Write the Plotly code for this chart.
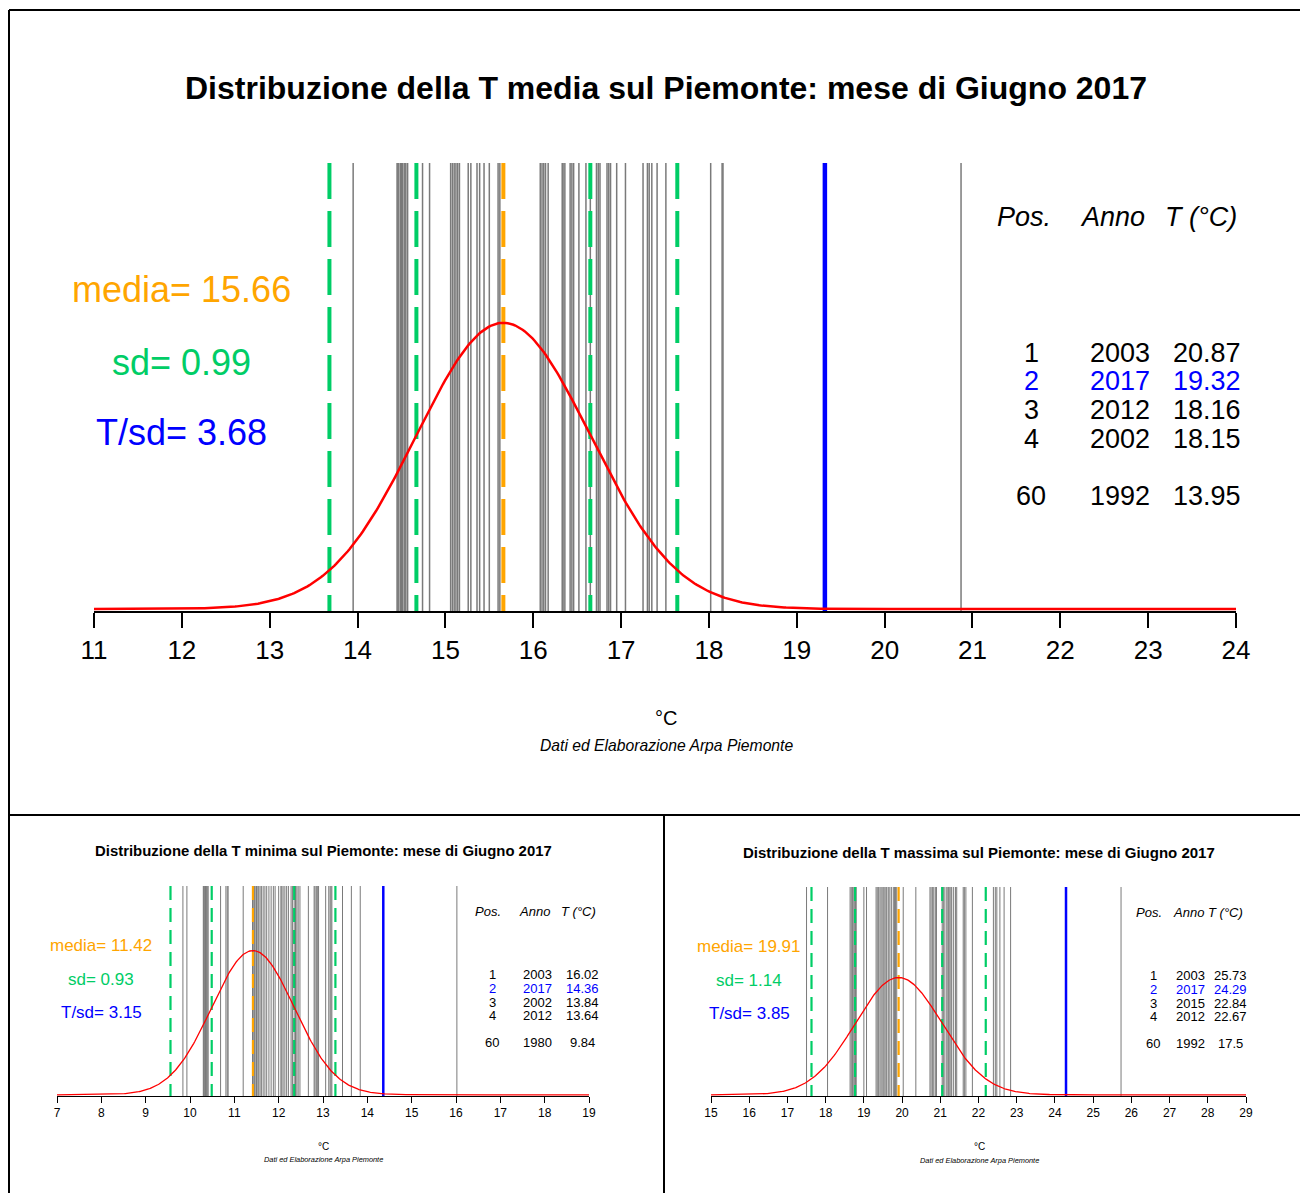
import numpy as np
import plotly.graph_objects as go

# ---------------- DATA ----------------
title_media = "Distribuzione della T media sul Piemonte: mese di Giugno 2017"
title_min = "Distribuzione della T minima sul Piemonte: mese di Giugno 2017"
title_max = "Distribuzione della T massima sul Piemonte: mese di Giugno 2017"

# yearly June values (gray lines), 2017 excluded (drawn in blue)
t_media_years = [13.95, 14.45, 14.46, 14.47, 14.49, 14.50, 14.51, 14.53, 14.54, 14.55, 14.57,
                 14.74, 14.82, 15.06, 15.08, 15.10, 15.12, 15.14, 15.16, 15.26, 15.29, 15.36,
                 15.39, 15.44, 15.50, 15.60, 15.62, 16.08, 16.10, 16.12, 16.14, 16.17, 16.33,
                 16.34, 16.36, 16.42, 16.44, 16.46, 16.52, 16.60, 16.65, 16.72, 16.74, 16.76,
                 16.84, 16.86, 16.88, 16.95, 17.05, 17.25, 17.30, 17.32, 17.35, 17.41, 17.51,
                 18.02, 18.15, 18.16, 20.87]
t_min_years = [9.84, 9.93, 10.30, 10.31, 10.33, 10.35, 10.37, 10.39, 10.41, 10.69, 10.81,
               10.84, 10.86, 11.20, 11.41, 11.44, 11.45, 11.47, 11.50, 11.53, 11.55, 11.58,
               11.61, 11.65, 11.69, 11.73, 11.78, 11.83, 11.88, 11.92, 12.00, 12.05, 12.07,
               12.10, 12.14, 12.18, 12.22, 12.28, 12.31, 12.35, 12.38, 12.41, 12.44, 12.48,
               12.67, 12.80, 12.82, 12.85, 12.88, 12.90, 13.06, 13.13, 13.16, 13.18, 13.20,
               13.44, 13.64, 13.84, 16.02]
t_max_years = [17.50, 18.05, 18.64, 18.67, 18.70, 18.72, 18.75, 18.78, 18.80, 19.00, 19.07,
               19.32, 19.35, 19.38, 19.42, 19.45, 19.48, 19.52, 19.55, 19.58, 19.60, 19.64,
               19.68, 19.72, 19.77, 19.80, 19.83, 19.86, 20.03, 20.36, 20.73, 20.76, 20.80,
               20.83, 20.87, 20.90, 21.05, 21.08, 21.12, 21.17, 21.20, 21.22, 21.25, 21.28,
               21.30, 21.35, 21.40, 21.43, 21.60, 21.63, 21.67, 21.84, 22.39, 22.44, 22.48,
               22.56, 22.67, 22.84, 25.73]

t2017 = [19.32, 14.36, 24.29]
media = [15.66, 11.42, 19.91]
sd = [0.99, 0.93, 1.14]
t_sd = [3.68, 3.15, 3.85]

tab_pos = ["1", "2", "3", "4", "60"]
tab_anno_media = ["2003", "2017", "2012", "2002", "1992"]
tab_t_media = ["20.87", "19.32", "18.16", "18.15", "13.95"]
tab_anno_min = ["2003", "2017", "2002", "2012", "1980"]
tab_t_min = ["16.02", "14.36", "13.84", "13.64", "9.84"]
tab_anno_max = ["2003", "2017", "2015", "2012", "1992"]
tab_t_max = ["25.73", "24.29", "22.84", "22.67", "17.5"]

ticks_media = list(range(11, 25))
ticks_min = list(range(7, 20))
ticks_max = list(range(15, 30))

# ---------------- LAYOUT HELPERS ----------------
OFF = 8  # page body margin
W, H = 1308 - 2 * OFF, 1201 - 2 * OFF
FONT = "Liberation Sans, Arial, Helvetica, sans-serif"
ORANGE = "#FFA500"
GREEN = "#00CD66"
BLUE = "#0000FF"
RED = "#FF0000"
GRAY = "#7a7a7a"


def fx(p):
    return (p - OFF) / W


def fy(p):
    return 1 - (p - OFF) / H


panels = [
    dict(years=t_media_years, ticks=ticks_media, title=title_media, anno=tab_anno_media, tt=tab_t_media,
         xpx=(94, 1236), ypx=(611, 163), ytop=0.628, big=True,
         title_y=88, left_x=181, left_y=(290, 362, 432), left_fs=36,
         head_x=(1024, 1112, 1201), head_y=217, col_x=(1031, 1120, 1207),
         row_y=(353, 381, 410, 439, 496), tab_fs=27, tick_fs=26, title_fs=32,
         cx=666, deg_y=718, deg_fs=20, cred_y=745, cred_fs=15.7),
    dict(years=t_min_years, ticks=ticks_min, title=title_min, anno=tab_anno_min, tt=tab_t_min,
         xpx=(57, 589), ypx=(1096, 886), ytop=0.621, big=False,
         title_y=851, left_x=101, left_y=(945, 979, 1012), left_fs=17,
         head_x=(488, 534, 578), head_y=911, col_x=(492, 537, 582),
         row_y=(974, 988, 1002, 1015, 1042), tab_fs=13, tick_fs=12, title_fs=14.9,
         cx=323, deg_y=1146, deg_fs=10, cred_y=1159, cred_fs=7.4),
    dict(years=t_max_years, ticks=ticks_max, title=title_max, anno=tab_anno_max, tt=tab_t_max,
         xpx=(711, 1246), ypx=(1096, 887), ytop=0.620, big=False,
         title_y=852, left_x=749, left_y=(946, 980, 1013), left_fs=17,
         head_x=(1149, 1188, 1225), head_y=912, col_x=(1153, 1190, 1230),
         row_y=(975, 989, 1003, 1016, 1043), tab_fs=13, tick_fs=12, title_fs=15,
         cx=979, deg_y=1146, deg_fs=10, cred_y=1160, cred_fs=7.4),
]

fig = go.Figure()
annotations = []
layout_axes = {}

for i, p in enumerate(panels):
    xa = "x" if i == 0 else f"x{i+1}"
    ya = "y" if i == 0 else f"y{i+1}"
    xkey = "xaxis" if i == 0 else f"xaxis{i+1}"
    ykey = "yaxis" if i == 0 else f"yaxis{i+1}"
    big = p["big"]
    hpx = p["ypx"][0] - p["ypx"][1]
    ytop = p["ytop"]
    ybot = -ytop * (2.0 if big else 1.2) / hpx

    # gray lines (years)
    gx, gy = [], []
    for v in p["years"]:
        gx += [v, v, None]
        gy += [ybot, ytop, None]
    fig.add_trace(go.Scatter(x=gx, y=gy, mode="lines", xaxis=xa, yaxis=ya,
                             line=dict(color=GRAY, width=1.5 if big else 1.0),
                             hoverinfo="skip", showlegend=False))
    m, s = media[i], sd[i]
    dash = "36px,12px" if big else "14px,8px"
    # sd lines
    for k in (-2, -1, 1, 2):
        fig.add_trace(go.Scatter(x=[m + k * s, m + k * s], y=[ytop, ybot], mode="lines",
                                 xaxis=xa, yaxis=ya,
                                 line=dict(color=GREEN, width=4 if big else 2.2, dash=dash),
                                 hoverinfo="skip", showlegend=False))
    # mean line
    fig.add_trace(go.Scatter(x=[m, m], y=[ytop, ybot], mode="lines", xaxis=xa, yaxis=ya,
                             line=dict(color=ORANGE, width=4 if big else 2.2, dash=dash),
                             hoverinfo="skip", showlegend=False))
    # 2017
    fig.add_trace(go.Scatter(x=[t2017[i], t2017[i]], y=[ybot, ytop], mode="lines",
                             xaxis=xa, yaxis=ya,
                             line=dict(color=BLUE, width=4.5 if big else 2.5),
                             hoverinfo="skip", showlegend=False))
    # normal density
    x0, x1 = p["ticks"][0], p["ticks"][-1]
    xs = np.linspace(x0, x1, 600)
    ys = np.exp(-0.5 * ((xs - m) / s) ** 2) / (s * np.sqrt(2 * np.pi))
    fig.add_trace(go.Scatter(x=xs, y=ys, mode="lines", xaxis=xa, yaxis=ya,
                             line=dict(color=RED, width=2.5 if big else 1.3),
                             hoverinfo="skip", showlegend=False))

    layout_axes[xkey] = dict(domain=[fx(p["xpx"][0]), fx(p["xpx"][1])], anchor=ya,
                             range=[x0, x1], showgrid=False, zeroline=False,
                             showline=True, linecolor="black", linewidth=2 if big else 1,
                             ticks="outside", ticklen=15 if big else 6,
                             tickwidth=2 if big else 1, tickcolor="black",
                             tickvals=p["ticks"], ticktext=[str(t) for t in p["ticks"]],
                             tickfont=dict(family=FONT, size=p["tick_fs"], color="black"),
                             layer="below traces", fixedrange=True, automargin=False)
    layout_axes[ykey] = dict(domain=[fy(p["ypx"][0]), fy(p["ypx"][1])], anchor=xa,
                             range=[ybot, ytop], visible=False, fixedrange=True,
                             automargin=False)

    def ann(text, xp, yp, size, color="black"):
        annotations.append(dict(text=text, x=fx(xp), y=fy(yp), xref="paper", yref="paper",
                                xanchor="center", yanchor="middle", showarrow=False,
                                font=dict(family=FONT, size=size, color=color)))

    ann("<b>" + p["title"] + "</b>", p["cx"], p["title_y"], p["title_fs"])
    ann(f"media= {media[i]:.2f}", p["left_x"], p["left_y"][0], p["left_fs"], ORANGE)
    ann(f"sd= {sd[i]:.2f}", p["left_x"], p["left_y"][1], p["left_fs"], GREEN)
    ann(f"T/sd= {t_sd[i]:.2f}", p["left_x"], p["left_y"][2], p["left_fs"], BLUE)
    ann("<i>Pos.</i>", p["head_x"][0], p["head_y"], p["tab_fs"])
    ann("<i>Anno</i>", p["head_x"][1], p["head_y"], p["tab_fs"])
    ann("<i>T (°C)</i>", p["head_x"][2], p["head_y"], p["tab_fs"])
    for r in range(5):
        col = BLUE if r == 1 else "black"
        ann(tab_pos[r], p["col_x"][0], p["row_y"][r], p["tab_fs"], col)
        ann(p["anno"][r], p["col_x"][1], p["row_y"][r], p["tab_fs"], col)
        ann(p["tt"][r], p["col_x"][2], p["row_y"][r], p["tab_fs"], col)
    ann("°C", p["cx"], p["deg_y"], p["deg_fs"])
    ann("<i>Dati ed Elaborazione Arpa Piemonte</i>", p["cx"], p["cred_y"], p["cred_fs"])

# frame lines
shapes = []
for (a, b, c, d) in [(9, 10, 1308, 10), (9, 10, 9, 1201), (9, 815, 1308, 815), (664, 815, 664, 1201)]:
    shapes.append(dict(type="line", xref="paper", yref="paper", x0=fx(a), y0=fy(b),
                       x1=fx(c), y1=fy(d), line=dict(color="black", width=2)))

fig.update_layout(width=W, height=H,
                  margin=dict(l=0, r=0, t=0, b=0, pad=0, autoexpand=False),
                  paper_bgcolor="white", plot_bgcolor="white",
                  showlegend=False, annotations=annotations, shapes=shapes,
                  font=dict(family=FONT), **layout_axes)

fig.write_html("out.html")
